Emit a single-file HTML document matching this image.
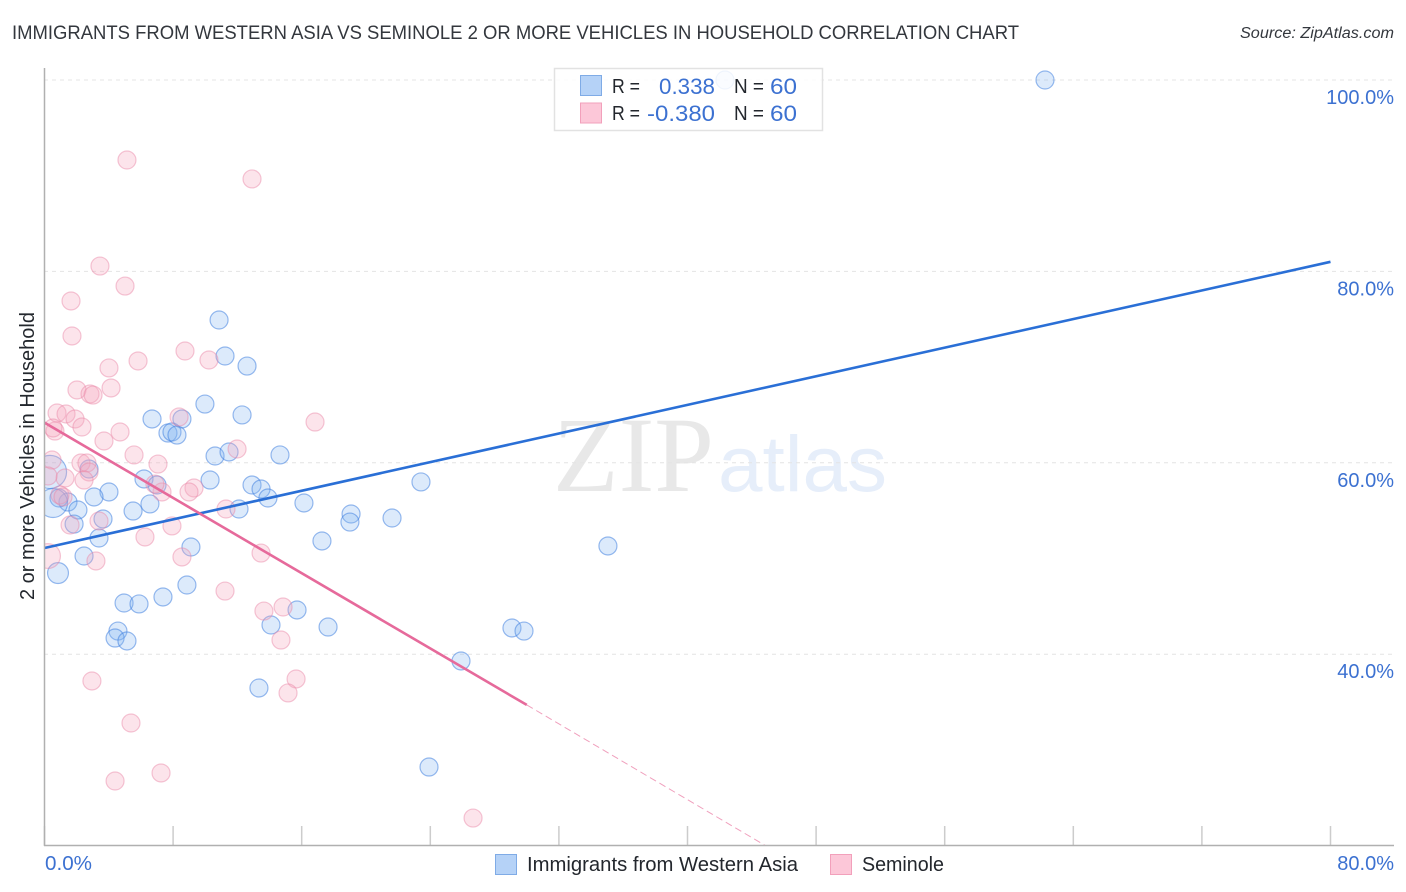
<!DOCTYPE html>
<html lang="en">
<head>
<meta charset="utf-8">
<title>Immigrants from Western Asia vs Seminole correlation chart</title>
<style>
html,body{margin:0;padding:0;background:#fff;width:1406px;height:892px;overflow:hidden}
svg{display:block;font-family:"Liberation Sans",sans-serif}
</style>
</head>
<body>
<svg id="chart" width="1406" height="892" viewBox="0 0 1406 892" xmlns="http://www.w3.org/2000/svg">
  <defs><clipPath id="plot-clip"><rect x="44" y="60" width="1350" height="785"/></clipPath></defs>
  <text x="12" y="39" font-size="19.5" fill="#33373d" textLength="1007" lengthAdjust="spacingAndGlyphs">IMMIGRANTS FROM WESTERN ASIA VS SEMINOLE 2 OR MORE VEHICLES IN HOUSEHOLD CORRELATION CHART</text>
  <text x="1240" y="38" font-size="15.5" font-style="italic" fill="#33373d" textLength="154" lengthAdjust="spacingAndGlyphs">Source: ZipAtlas.com</text>
  <g id="watermark">
    <text x="553" y="491" font-family="'Liberation Serif',serif" font-size="107" fill="#e8e8e8" textLength="161" lengthAdjust="spacingAndGlyphs">ZIP</text>
    <text x="718" y="491" font-size="79" fill="#e6eefa" textLength="169" lengthAdjust="spacingAndGlyphs">atlas</text>
  </g>
  <g id="grid"></g>
  <g id="points" clip-path="url(#plot-clip)"></g>
  <g id="trends" clip-path="url(#plot-clip)"></g>
  <g id="axes"></g>
  <text transform="translate(34,456) rotate(-90)" font-size="20" fill="#23272d" text-anchor="middle" textLength="288" lengthAdjust="spacingAndGlyphs">2 or more Vehicles in Household</text>

  <g>
    <rect x="554.5" y="68.5" width="268" height="62" fill="#ffffff" fill-opacity="0.86" stroke="#e2e2e2" stroke-width="1.5"/>
    <rect x="580.5" y="75.5" width="21" height="20" fill="#b5d2f7" stroke="#7fabe6"/>
    <rect x="580.5" y="103" width="21" height="20" fill="#fcc7d8" stroke="#f2a0bb"/>
    <text x="612" y="93" font-size="20" fill="#23272d" textLength="28" lengthAdjust="spacingAndGlyphs">R =</text>
    <text x="659" y="94" font-size="22" fill="#3c71d1" textLength="56" lengthAdjust="spacingAndGlyphs">0.338</text>
    <text x="734" y="93" font-size="20" fill="#23272d" textLength="30" lengthAdjust="spacingAndGlyphs">N =</text>
    <text x="770" y="94" font-size="22" fill="#3c71d1" textLength="27" lengthAdjust="spacingAndGlyphs">60</text>
    <text x="612" y="120" font-size="20" fill="#23272d" textLength="28" lengthAdjust="spacingAndGlyphs">R =</text>
    <text x="647" y="121" font-size="22" fill="#3c71d1" textLength="68" lengthAdjust="spacingAndGlyphs">-0.380</text>
    <text x="734" y="120" font-size="20" fill="#23272d" textLength="30" lengthAdjust="spacingAndGlyphs">N =</text>
    <text x="770" y="121" font-size="22" fill="#3c71d1" textLength="27" lengthAdjust="spacingAndGlyphs">60</text>
  </g>

  <g>
    <rect x="495.5" y="854.5" width="21" height="20" fill="#b5d2f7" stroke="#7fabe6"/>
    <text x="527" y="871" font-size="20" fill="#23272d" textLength="271" lengthAdjust="spacingAndGlyphs">Immigrants from Western Asia</text>
    <rect x="830.5" y="854.5" width="21" height="20" fill="#fcc7d8" stroke="#f2a0bb"/>
    <text x="862" y="871" font-size="20" fill="#23272d" textLength="82" lengthAdjust="spacingAndGlyphs">Seminole</text>
  </g>
</svg>
<script>
// Chart data (percent values)
const yTickValues = [100, 80, 60, 40];
const yTickLabels = ["100.0%", "80.0%", "60.0%", "40.0%"];
const xTickValues = [0, 8, 16, 24, 32, 40, 48, 56, 64, 72, 80];
const xAxisEndLabels = ["0.0%", "80.0%"];

const blueX = [62.24,42.33,10.86,11.23,12.60,9.98,12.29,6.69,8.55,7.68,7.93,8.24,10.61,11.48,14.65,6.19,7.00,10.30,12.91,13.47,13.90,16.14,4.01,3.08,1.46,0.90,2.08,5.51,6.56,12.10,19.07,19.00,21.62,23.42,3.64,1.84,3.39,17.26,9.11,35.05,2.46,0.84,8.86,7.37,4.95,5.88,15.71,14.09,17.64,4.57,4.39,5.13,29.08,29.83,25.91,13.34,23.92,2.77,0.34,0.53];
const blueY = [100,100,74.92,71.16,70.11,66.14,65.00,64.58,64.58,63.11,63.22,62.90,60.71,61.13,60.82,58.31,57.68,58.20,57.68,57.26,56.32,55.80,56.95,56.43,55.90,56.32,55.07,54.96,55.70,55.17,54.65,53.81,54.23,58.00,54.13,53.60,52.14,51.83,51.20,51.31,50.26,48.48,47.23,45.98,45.35,45.25,44.62,43.05,42.84,42.42,41.69,41.38,42.74,42.42,39.29,36.47,28.21,59.35,59.04,55.80];
const blueWeight = [1,1,1,1,1,1,1,1,1,1,1,1,1,1,1,1,1,1,1,1,1,1,1,1,1,1,1,1,1,1,1,1,1,1,1,1,1,1,1,1,1,1.35,1,1,1,1,1,1,1,1,1,1,1,1,1,1,1,1,3.4,2.6];

const pinkX = [5.13,12.91,3.45,5.01,1.65,1.71,8.74,10.23,5.82,4.01,2.02,2.83,3.02,4.14,0.78,1.34,1.90,8.37,16.83,2.33,0.65,4.70,3.70,11.98,5.57,7.06,2.27,2.64,0.47,2.77,2.46,1.28,0.22,9.30,8.99,7.31,6.87,0.96,1.15,11.29,7.93,3.39,1.59,6.25,13.47,8.55,3.20,0.22,11.23,13.65,14.84,14.71,15.65,15.15,2.95,5.38,7.25,4.39,26.66,0.53];
const pinkY = [91.64,89.66,80.56,78.47,76.91,73.25,71.68,70.74,70.64,69.91,67.61,67.19,67.08,67.82,65.20,65.10,64.58,64.79,64.26,63.74,63.32,63.22,62.28,61.44,60.82,59.87,59.98,59.98,60.29,59.04,58.20,58.41,58.62,57.37,56.95,56.95,57.78,56.64,56.43,55.17,53.40,53.92,53.50,52.25,50.57,50.16,49.74,50.26,46.60,44.51,44.93,41.48,37.41,35.95,37.20,32.81,27.59,26.75,22.88,63.64];
const pinkWeight = [1,1,1,1,1,1,1,1,1,1,1,1,1,1,1,1,1,1,1,1,1,1,1,1,1,1,1,1,1,1,1,1,1,1,1,1,1,1,1,1,1,1,1,1,1,1,1,1.9,1,1,1,1,1,1,1,1,1,1,1,1];

const blueTrendX = [0, 80];
const blueTrendY = [51.1, 81.0];
const pinkTrendX = [0, 30.0];
const pinkTrendY = [64.2, 34.7];
const pinkDashX = [30.0, 44.85];
const pinkDashY = [34.7, 20.0];

// Axis functions
const xScale = v => 44.5 + v * 16.075;
const yScale = v => 80 + (100 - v) * 9.57;
const rScale = w => 9 * Math.sqrt(w);

const NS = 'http://www.w3.org/2000/svg';
function make(tag, attrs, parent, text) {
  const el = document.createElementNS(NS, tag);
  for (const k in attrs) el.setAttribute(k, attrs[k]);
  if (text !== undefined) el.textContent = text;
  parent.appendChild(el);
  return el;
}

const grid = document.getElementById('grid');
const axes = document.getElementById('axes');
const points = document.getElementById('points');
const trends = document.getElementById('trends');

yTickValues.forEach((v, i) => {
  const line = make('line', {x1: 44, x2: 1394, y1: yScale(v), y2: yScale(v), stroke: '#e4e4e4', 'stroke-width': 1, 'stroke-dasharray': '4 4'}, grid);
  
  
  const label = make('text', {x: 1394, y: yScale(v) + 24, 'font-size': 20, fill: '#3c71d1', 'text-anchor': 'end'}, axes, yTickLabels[i]);
  
  
});

xTickValues.forEach(v => {
  const tick = make('line', {x1: xScale(v), x2: xScale(v), y1: 826, y2: 845, stroke: '#cccccc', 'stroke-width': 1.5}, axes);
  
  
});

const yAxisLine = make('line', {x1: 44.5, x2: 44.5, y1: 68, y2: 846, stroke: '#b0b0b0', 'stroke-width': 1.5}, axes);


const xAxisLine = make('line', {x1: 44, x2: 1394, y1: 845.5, y2: 845.5, stroke: '#b0b0b0', 'stroke-width': 1.5}, axes);



const xLabelStart = make('text', {x: 45, y: 870, 'font-size': 20, fill: '#3c71d1', textLength: 47, lengthAdjust: 'spacingAndGlyphs'}, axes, xAxisEndLabels[0]);


const xLabelEnd = make('text', {x: 1394, y: 870, 'font-size': 20, fill: '#3c71d1', 'text-anchor': 'end'}, axes, xAxisEndLabels[1]);



blueX.forEach((v, i) => {
  const dot = make('circle', {cx: xScale(v), cy: yScale(blueY[i]), r: rScale(blueWeight[i]), fill: 'rgba(130,178,242,0.28)', stroke: 'rgba(60,125,222,0.52)', 'stroke-width': 1.2}, points);
  
  
});
pinkX.forEach((v, i) => {
  const dot = make('circle', {cx: xScale(v), cy: yScale(pinkY[i]), r: rScale(pinkWeight[i]), fill: 'rgba(245,165,190,0.3)', stroke: 'rgba(232,130,165,0.45)', 'stroke-width': 1.2}, points);
  
  
});

const blueTrend = make('line', {x1: xScale(blueTrendX[0]), y1: yScale(blueTrendY[0]), x2: xScale(blueTrendX[1]), y2: yScale(blueTrendY[1]), stroke: '#2a6fd6', 'stroke-width': 2.6}, trends);


const pinkTrend = make('line', {x1: xScale(pinkTrendX[0]), y1: yScale(pinkTrendY[0]), x2: xScale(pinkTrendX[1]), y2: yScale(pinkTrendY[1]), stroke: '#e66a9b', 'stroke-width': 2.6}, trends);


const pinkDash = make('line', {x1: xScale(pinkDashX[0]), y1: yScale(pinkDashY[0]), x2: xScale(pinkDashX[1]), y2: yScale(pinkDashY[1]), stroke: '#f0a0bd', 'stroke-width': 1, 'stroke-dasharray': '7 4'}, trends);


</script>
</body>
</html>
